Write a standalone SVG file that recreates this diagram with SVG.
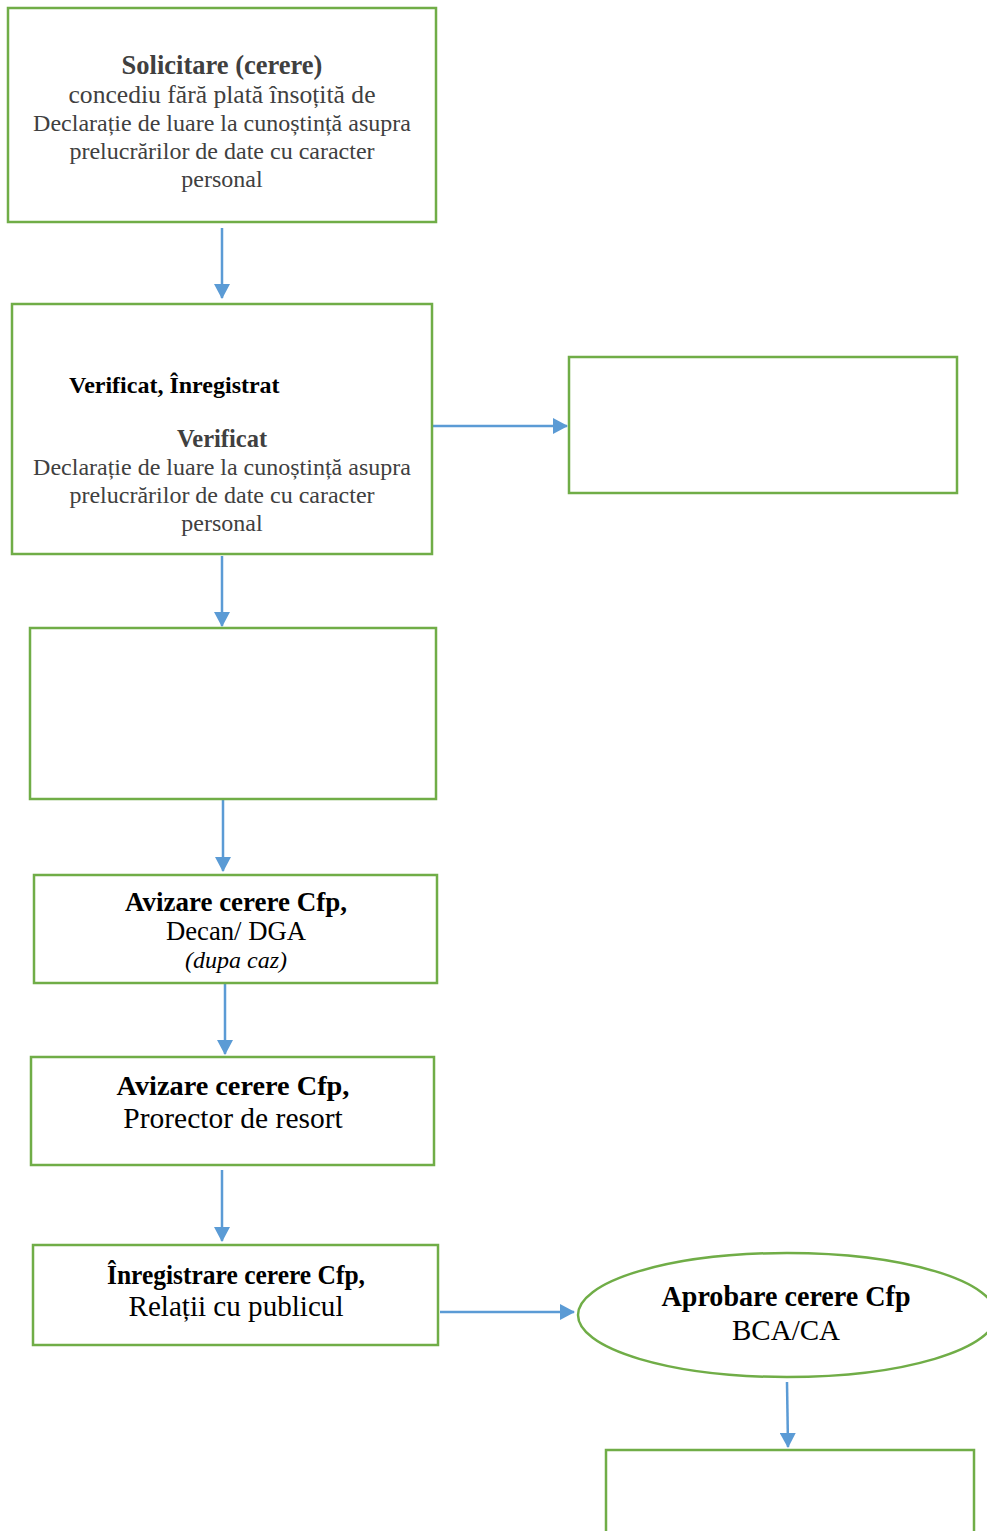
<svg xmlns="http://www.w3.org/2000/svg" width="987" height="1531" viewBox="0 0 987 1531">
<style>
.box{fill:#fff;stroke:#70AD47;stroke-width:2.5}
.con{stroke:#5B9BD5;stroke-width:2.5;fill:none}
text{font-family:"Liberation Serif","Times New Roman",serif;text-anchor:middle}
.g{fill:#404040}
.k{fill:#000}
.b{font-weight:bold}
</style>
<defs>
<marker id="ahb" markerWidth="16" markerHeight="16" refX="14" refY="8" orient="auto" markerUnits="userSpaceOnUse" viewBox="0 0 16 16">
<path d="M0,0 L15,8 L0,16 Z" fill="#5B9BD5"/>
</marker>
</defs>
<rect width="987" height="1531" fill="#fff"/>
<g id="connectors">
<line class="con" x1="222" y1="228" x2="222" y2="298" marker-end="url(#ahb)"/>
<line class="con" x1="433" y1="426" x2="567" y2="426" marker-end="url(#ahb)"/>
<line class="con" x1="222" y1="556" x2="222" y2="626" marker-end="url(#ahb)"/>
<line class="con" x1="223" y1="800" x2="223" y2="871" marker-end="url(#ahb)"/>
<line class="con" x1="225" y1="984" x2="225" y2="1054" marker-end="url(#ahb)"/>
<line class="con" x1="222" y1="1170" x2="222" y2="1241" marker-end="url(#ahb)"/>
<line class="con" x1="440" y1="1312" x2="574" y2="1312" marker-end="url(#ahb)"/>
<line class="con" x1="787" y1="1382" x2="788" y2="1447" marker-end="url(#ahb)"/>
</g>
<g id="n1">
<rect class="box" x="8" y="8" width="428" height="214"/>
<text class="g b" x="222" y="74" font-size="26.5">Solicitare (cerere)</text>
<text class="g" x="222" y="103" font-size="25.6">concediu fără plată însoțită de</text>
<text class="g" x="222" y="131" font-size="24">Declarație de luare la cunoștință asupra</text>
<text class="g" x="222" y="159" font-size="24">prelucrărilor de date cu caracter</text>
<text class="g" x="222" y="187" font-size="24">personal</text>
</g>
<g id="n2">
<rect class="box" x="12" y="304" width="420" height="250"/>
<text class="k b" x="69" y="393" font-size="24" style="text-anchor:start">Verificat, Înregistrat</text>
<text class="g b" x="222" y="447" font-size="24.5">Verificat</text>
<text class="g" x="222" y="475" font-size="24">Declarație de luare la cunoștință asupra</text>
<text class="g" x="222" y="503" font-size="24">prelucrărilor de date cu caracter</text>
<text class="g" x="222" y="531" font-size="24">personal</text>
</g>
<g id="n3">
<rect class="box" x="569" y="357" width="388" height="136"/>
</g>
<g id="n4">
<rect class="box" x="30" y="628" width="406" height="171"/>
</g>
<g id="n5">
<rect class="box" x="34" y="875" width="403" height="108"/>
<text class="k b" x="236" y="911" font-size="27">Avizare cerere Cfp,</text>
<text class="k" x="236" y="940" font-size="26.7">Decan/ DGA</text>
<text class="k" x="236" y="968" font-size="24" font-style="italic">(dupa caz)</text>
</g>
<g id="n6">
<rect class="box" x="31" y="1057" width="403" height="108"/>
<text class="k b" x="233" y="1095" font-size="28.3">Avizare cerere Cfp,</text>
<text class="k" x="233" y="1128" font-size="29.5">Prorector de resort</text>
</g>
<g id="n7">
<rect class="box" x="33" y="1245" width="405" height="100"/>
<text class="k b" x="236" y="1284" font-size="28" textLength="258" lengthAdjust="spacingAndGlyphs">Înregistrare cerere Cfp,</text>
<text class="k" x="236" y="1316" font-size="30" textLength="215" lengthAdjust="spacingAndGlyphs">Relații cu publicul</text>
</g>
<g id="n8">
<ellipse class="box" cx="787" cy="1315" rx="209" ry="62"/>
<text class="k b" x="786" y="1306" font-size="30" textLength="249" lengthAdjust="spacingAndGlyphs">Aprobare cerere Cfp</text>
<text class="k" x="786" y="1340" font-size="30" textLength="108" lengthAdjust="spacingAndGlyphs">BCA/CA</text>
</g>
<g id="n9">
<rect class="box" x="606" y="1450" width="368" height="100"/>
</g>
</svg>
